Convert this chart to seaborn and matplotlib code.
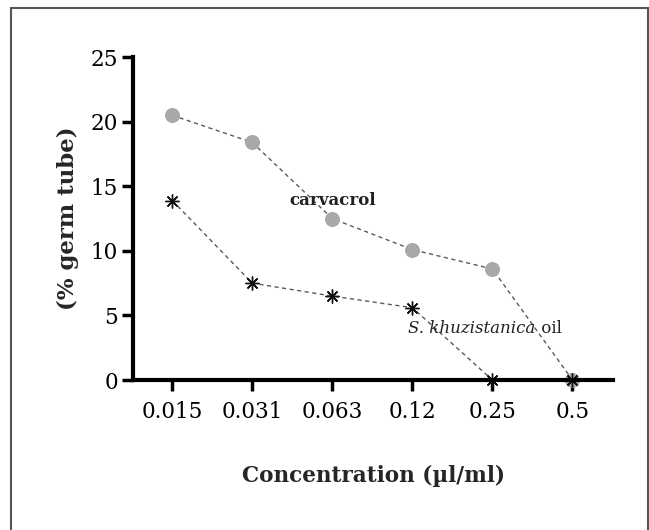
import matplotlib
matplotlib.use("Agg")
import matplotlib.pyplot as plt
from matplotlib.patches import Rectangle
import seaborn as sns
import pandas as pd

concentrations = ["0.015", "0.031", "0.063", "0.12", "0.25", "0.5"]
carvacrol = [20.5, 18.4, 12.5, 10.1, 8.6, 0.0]
khuzistanica_oil = [13.9, 7.5, 6.5, 5.6, 0.0, 0.0]
y_ticks = [0, 5, 10, 15, 20, 25]

sns.set_style("white")
plt.rcParams["font.family"] = ["DejaVu Serif"]

fig = plt.figure(figsize=(6.49, 5.30), dpi=100)
ax = fig.add_axes([0.205, 0.283, 0.74, 0.609])

df_c = pd.DataFrame({"conc": concentrations, "val": carvacrol})
df_o = pd.DataFrame({"conc": concentrations, "val": khuzistanica_oil})

sns.lineplot(data=df_c, x="conc", y="val", ax=ax, sort=False, color="#5a5a5a",
             linestyle=(0, (3, 2.5)), linewidth=1.0, marker="o", markersize=10,
             markerfacecolor="#a8a8aa", markeredgecolor="#a8a8aa", clip_on=False, zorder=2)
sns.lineplot(data=df_o, x="conc", y="val", ax=ax, sort=False, color="#5a5a5a",
             linestyle=(0, (3, 2.5)), linewidth=1.0, marker=(8, 2, 0), markersize=10,
             markeredgewidth=1.0, markeredgecolor="#111111", clip_on=False, zorder=2.05)

ax.set_xlim(-0.49, 5.51)
ax.set_ylim(0, 25)
ax.set_yticks(y_ticks)
ax.set_xticks(range(len(concentrations)))
ax.set_xticklabels(concentrations)

for s in ["top", "right"]:
    ax.spines[s].set_visible(False)
for s in ["left", "bottom"]:
    ax.spines[s].set_linewidth(3.0)
    ax.spines[s].set_color("black")
    ax.spines[s].set_zorder(2.1)

ax.tick_params(axis="both", which="major", direction="out", length=8, width=2.5,
               labelsize=15.5, colors="black", pad=3, bottom=True, left=True)
ax.tick_params(axis="x", pad=7)

ax.set_xlabel("Concentration (µl/ml)", fontsize=15.5, fontweight="bold", labelpad=30)
ax.set_ylabel("(% germ tube)", fontsize=16.5, fontweight="bold", labelpad=8)

ax.text(2.0, 13.9, "carvacrol", fontsize=12, fontweight="bold", ha="center", va="center",
        color="#222222")
t = ax.text(2.95, 4.0, "S. khuzistanica", fontsize=12, style="italic", ha="left", va="center",
            color="#222222")
ax.annotate(" oil", xy=(1.0, 0.5), xycoords=t, fontsize=12, ha="left", va="center",
            color="#222222")

fig.patches.append(Rectangle((0.017, -0.02), 0.981, 1.005, transform=fig.transFigure,
                             fill=False, edgecolor="#555555", linewidth=1.5))

fig.savefig("out.png", dpi=100)
